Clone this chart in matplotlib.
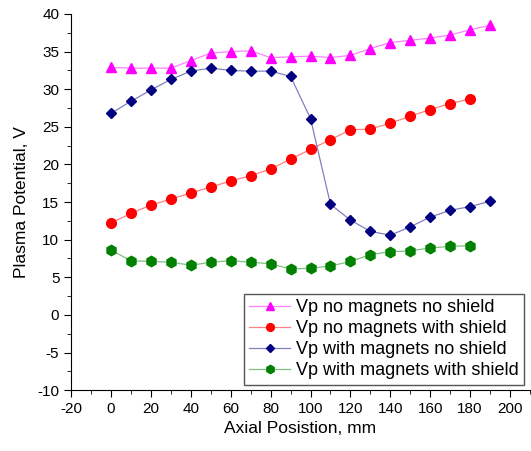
import numpy as np
import matplotlib.pyplot as plt
import matplotlib.colors as mc
from matplotlib.ticker import MultipleLocator

# axial positions, mm
x19 = np.arange(0, 200, 10)
x18 = np.arange(0, 190, 10)

# plasma potential, V
vp_nomag_noshield = [32.9, 32.8, 32.8, 32.8, 33.8, 34.8, 35.0, 35.1, 34.2, 34.3,
                     34.4, 34.2, 34.5, 35.4, 36.2, 36.5, 36.8, 37.2, 37.9, 38.5]
vp_nomag_shield = [12.2, 13.5, 14.6, 15.4, 16.2, 17.0, 17.8, 18.5, 19.4, 20.7,
                   22.0, 23.3, 24.6, 24.7, 25.5, 26.4, 27.3, 28.1, 28.7]
vp_mag_noshield = [26.8, 28.4, 29.9, 31.3, 32.4, 32.8, 32.5, 32.4, 32.4, 31.7,
                   26.1, 14.7, 12.6, 11.1, 10.6, 11.7, 13.0, 13.9, 14.4, 15.1]
vp_mag_shield = [8.6, 7.2, 7.1, 7.0, 6.6, 7.0, 7.2, 7.0, 6.8, 6.1,
                 6.2, 6.5, 7.1, 8.0, 8.4, 8.5, 8.9, 9.1, 9.2]

plt.rcParams['font.family'] = ['Liberation Sans', 'DejaVu Sans']
plt.rcParams['axes.unicode_minus'] = False

fig = plt.figure(figsize=(5.31, 4.51), dpi=100)
ax = fig.add_axes([0.134, 0.135, 0.864, 0.834])

ax.plot(x19, vp_nomag_noshield, color='#ff00ff', marker='^', ms=7.5,
        lw=0.9, label='Vp no magnets no shield')
ax.plot(x18, vp_nomag_shield, color='#ff0000', marker='o', ms=7,
        lw=0.9, label='Vp no magnets with shield')
ax.plot(x19, vp_mag_noshield, color='#000080', marker='D', ms=5.5,
        lw=0.9, label='Vp with magnets no shield')
ax.plot(x18, vp_mag_shield, color='#008000', marker='h', ms=7.5,
        lw=0.9, label='Vp with magnets with shield')

# lines are a lighter shade of the marker colour
for ln in ax.get_lines():
    c = ln.get_color()
    ln.set_markerfacecolor(c)
    ln.set_markeredgecolor(c)
    rgb = np.array(mc.to_rgb(c))
    ln.set_color(tuple(rgb + (1 - rgb) * 0.5))

ax.set_xlim(-20, 210)
ax.set_ylim(-10, 40)
ax.xaxis.set_major_locator(MultipleLocator(20))
ax.xaxis.set_minor_locator(MultipleLocator(10))
ax.yaxis.set_major_locator(MultipleLocator(5))
ax.yaxis.set_minor_locator(MultipleLocator(2.5))
ax.tick_params(which='major', length=5, direction='out', labelsize=11)
ax.tick_params(which='minor', length=3, direction='out')
ax.spines['top'].set_visible(False)
ax.spines['right'].set_visible(False)

ax.set_xlabel('Axial Posistion, mm', fontsize=12.5)
ax.set_ylabel('Plasma Potential, V', fontsize=12.5, labelpad=6)

leg = ax.legend(loc='lower right', bbox_to_anchor=(0.995, 0.005), fontsize=13,
                fancybox=False, framealpha=1, edgecolor='#555555',
                borderpad=0.3, labelspacing=0.22, handlelength=2.3,
                handletextpad=0.3, borderaxespad=0.2, markerscale=0.8)
leg.get_frame().set_linewidth(1)

fig.savefig('out.png', dpi=100)
